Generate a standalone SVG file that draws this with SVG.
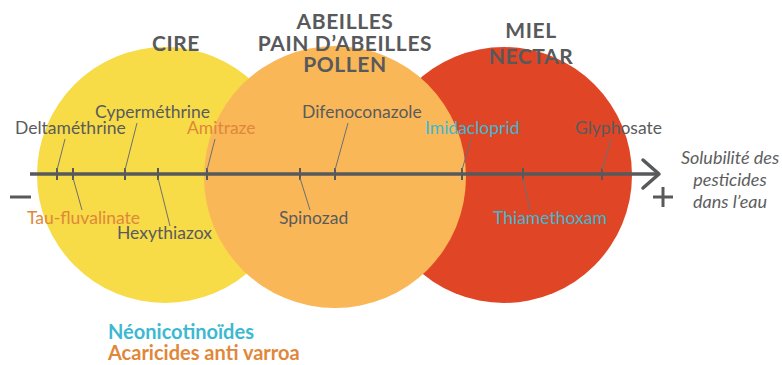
<svg xmlns="http://www.w3.org/2000/svg" width="782" height="365" viewBox="0 0 782 365">
<style>
text{font-family:Lato,"Liberation Sans",sans-serif}
.h{font-weight:bold;font-size:21px;letter-spacing:0.6px;fill:#58595b;text-anchor:middle}
.l{font-size:17.5px;fill:#5a5b5d}
.o{fill:#e0873a}
.c{fill:#3cb9d1}
.lead{stroke:#6e6f71;stroke-width:1;fill:none}
.tick{stroke:#58595b;stroke-width:2}
.it{font-style:italic;font-size:18px;fill:#5d5e60;text-anchor:middle}
</style>
<rect width="782" height="365" fill="#ffffff"/>
<g id="cire"><circle cx="165" cy="175" r="128" fill="#f7db47"/></g>
<g id="miel"><circle cx="504" cy="175" r="128" fill="#e04526"/></g>
<g id="abeilles"><circle cx="335" cy="177" r="131" fill="#f9b758"/></g>
<g id="headers">
<text class="h" x="176" y="51">CIRE</text>
<text class="h" x="345" y="29">ABEILLES</text>
<text class="h" x="345" y="51">PAIN D’ABEILLES</text>
<text class="h" x="345" y="72">POLLEN</text>
<text class="h" x="531" y="38">MIEL</text>
<text class="h" x="531" y="64">NECTAR</text>
</g>
<g id="connectors">
<line x1="30" y1="174" x2="659" y2="174" stroke="#58595b" stroke-width="3.5"/>
<polyline points="643,160 659,174 643,188" fill="none" stroke="#58595b" stroke-width="3.5" stroke-linecap="round" stroke-linejoin="round"/>
<line x1="10" y1="197" x2="31" y2="197" stroke="#58595b" stroke-width="3"/>
<line x1="653" y1="197" x2="673" y2="197" stroke="#58595b" stroke-width="3"/>
<line x1="663" y1="187" x2="663" y2="207" stroke="#58595b" stroke-width="3"/>
<g class="tick">
<line x1="57" y1="168" x2="57" y2="180"/>
<line x1="73" y1="168" x2="73" y2="180"/>
<line x1="125" y1="168" x2="125" y2="180"/>
<line x1="158" y1="168" x2="158" y2="180"/>
<line x1="207" y1="168" x2="207" y2="180"/>
<line x1="300" y1="168" x2="300" y2="180"/>
<line x1="335" y1="168" x2="335" y2="180"/>
<line x1="462" y1="168" x2="462" y2="180"/>
<line x1="523" y1="168" x2="523" y2="180"/>
<line x1="602" y1="168" x2="602" y2="180"/>
</g>
<g class="lead">
<line x1="57" y1="170" x2="65" y2="139"/>
<line x1="73" y1="178" x2="82" y2="210"/>
<line x1="125" y1="170" x2="137" y2="123"/>
<line x1="158" y1="178" x2="170" y2="226"/>
<line x1="207" y1="170" x2="215" y2="139"/>
<line x1="300" y1="178" x2="310" y2="210"/>
<line x1="335" y1="170" x2="348" y2="123"/>
<line x1="462" y1="170" x2="471" y2="139"/>
<line x1="523" y1="178" x2="530" y2="210"/>
<line x1="602" y1="170" x2="611" y2="139"/>
</g>
</g>
<g id="labels">
<text class="l" x="15" y="134">Deltaméthrine</text>
<text class="l" x="95" y="118">Cyperméthrine</text>
<text class="l o" x="187" y="134">Amitraze</text>
<text class="l o" x="27" y="224">Tau-fluvalinate</text>
<text class="l" x="117" y="239">Hexythiazox</text>
<text class="l" x="302" y="118">Difenoconazole</text>
<text class="l c" x="425" y="134">Imidacloprid</text>
<text class="l" x="279" y="224">Spinozad</text>
<text class="l c" x="493" y="224">Thiamethoxam</text>
<text class="l" x="575" y="134">Glyphosate</text>
</g>
<g id="axis-title">
<text class="it" x="730" y="164">Solubilité des</text>
<text class="it" x="730" y="186">pesticides</text>
<text class="it" x="730" y="208">dans l’eau</text>
</g>
<g id="legend">
<text x="108" y="339" font-size="20" font-weight="bold" fill="#3cb9d1">Néonicotinoïdes</text>
<text x="108" y="360" font-size="20" font-weight="bold" fill="#e0873a">Acaricides anti varroa</text>
</g>
</svg>
